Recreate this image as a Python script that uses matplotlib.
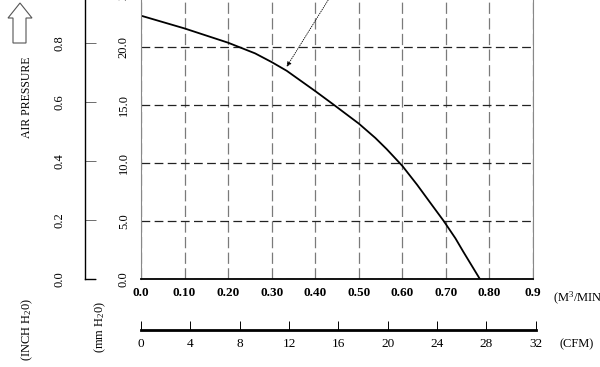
import matplotlib
matplotlib.use("Agg")
import matplotlib.pyplot as plt
from matplotlib.patches import Polygon

plt.rcParams['font.family'] = ['Liberation Serif', 'DejaVu Serif']
plt.rcParams['mathtext.fontset'] = 'custom'
plt.rcParams['mathtext.rm'] = 'Liberation Serif'
plt.rcParams['mathtext.default'] = 'regular'

# fan curve: flow (m3/min) vs static pressure (mm H2O)
flow = [0.0, 0.10, 0.20, 0.262, 0.30, 0.3345, 0.40, 0.4415, 0.50, 0.538, 0.564, 0.60,
        0.634, 0.665, 0.695, 0.722, 0.74, 0.778]
pressure = [22.7, 21.6, 20.37, 19.45, 18.7, 17.95, 16.2, 15.05, 13.4, 12.16, 11.2, 9.75,
            8.12, 6.53, 5.0, 3.5, 2.35, 0.0]

x_ticks = [0.0, 0.1, 0.2, 0.3, 0.4, 0.5, 0.6, 0.7, 0.8, 0.9]
x_labels = ['0.0', '0.10', '0.20', '0.30', '0.40', '0.50', '0.60', '0.70', '0.80', '0.9']
mm_ticks = [0, 5, 10, 15, 20, 25]
mm_labels = ['0.0', '5.0', '10.0', '15.0', '20.0', '25.0']
inch_ticks = [0.0, 0.2, 0.4, 0.6, 0.8]
inch_labels = ['0.0', '0.2', '0.4', '0.6', '0.8']
cfm_ticks = [0, 4, 8, 12, 16, 20, 24, 28, 32]

W, H = 600, 367
fig = plt.figure(figsize=(6, 3.67), dpi=100)

def fx(px):
    return px / W

def fy(py):
    return 1 - py / H

# main axes (mm H2O), top runs slightly off the figure
ax = fig.add_axes([fx(141), fy(279), fx(392), (279 + 11) / H])
ax.set_xlim(0, 0.9)
ax.set_ylim(0, 25)
ax.set_xticks(x_ticks)
ax.set_xticklabels(x_labels, fontsize=9.5, fontweight='bold')
ax.set_yticks(mm_ticks)
ax.set_yticklabels(mm_labels, fontsize=9, rotation=90, va='center')
ax.tick_params(axis='x', length=0, pad=5.5)
ax.tick_params(axis='y', length=0, pad=8)
ax.xaxis.grid(True, color='#7a7a7a', linestyle=(0, (9, 3.5)), lw=0.9)
ax.yaxis.grid(True, color='#222222', linestyle=(0, (7, 3.5)), lw=0.9)
ax.set_axisbelow(True)
ax.plot(flow, pressure, color='black', lw=1.3)
ax.spines['top'].set_visible(False)
ax.spines['left'].set_color('#888888')
ax.spines['right'].set_color('#888888')
ax.spines['bottom'].set_linewidth(1.3)

ax.annotate('', xy=(0.3345, 18.3), xytext=(0.462, 26.0),
            arrowprops=dict(arrowstyle='-|>', lw=0.6, linestyle=':', color='black',
                            mutation_scale=7, shrinkA=0, shrinkB=0),
            annotation_clip=False)

# inch H2O scale
ax_in = fig.add_axes([fx(85), fy(279), fx(10), (279 + 11) / H])
ax_in.set_ylim(0, 25 / 25.4)
ax_in.set_xlim(0, 1)
ax_in.set_xticks([])
ax_in.set_yticks(inch_ticks)
ax_in.set_yticklabels(inch_labels, fontsize=9, rotation=90, va='center')
ax_in.tick_params(axis='y', direction='in', length=8, width=0.6, color='#555555', pad=14)
ax_in.spines['top'].set_visible(False)
ax_in.spines['right'].set_visible(False)
ax_in.spines['left'].set_linewidth(1.0)
ax_in.spines['bottom'].set_linewidth(1.0)
ax_in.patch.set_visible(False)

# CFM scale
ax_cfm = fig.add_axes([fx(141), fy(330), fx(394.7), 0.01])
ax_cfm.set_xlim(0, 32)
ax_cfm.set_yticks([])
ax_cfm.set_xticks(cfm_ticks)
ax_cfm.set_xticklabels([str(t) for t in cfm_ticks], fontsize=9.5)
ax_cfm.tick_params(axis='x', direction='in', length=6.5, width=0.7, pad=6)
for s in ['top', 'left', 'right']:
    ax_cfm.spines[s].set_visible(False)
ax_cfm.spines['bottom'].set_linewidth(2)
ax_cfm.patch.set_visible(False)

# unit texts
fig.text(fx(553), fy(298), '(M$^3$/MIN)', fontsize=9, ha='left', va='center')
fig.text(fx(560), fy(344), '(CFM)', fontsize=9, ha='left', va='center')
fig.text(fx(27), fy(97), 'AIR PRESSURE', fontsize=8.5, rotation=90, ha='center', va='center')
fig.text(fx(27), fy(329), '(INCH H$_2$0)', fontsize=9, rotation=90, ha='center', va='center')
fig.text(fx(100), fy(327), '(mm H$_2$0)', fontsize=9, rotation=90, ha='center', va='center')

# hollow arrow above the axis title
arrow_px = [(20, 3), (32, 18), (26, 18), (26, 43), (13, 43), (13, 18), (8, 18)]
fig.patches.append(Polygon([(fx(x), fy(y)) for x, y in arrow_px], closed=True,
                           transform=fig.transFigure, facecolor='white',
                           edgecolor='#555555', lw=0.8))

fig.savefig('out.png', dpi=100)
